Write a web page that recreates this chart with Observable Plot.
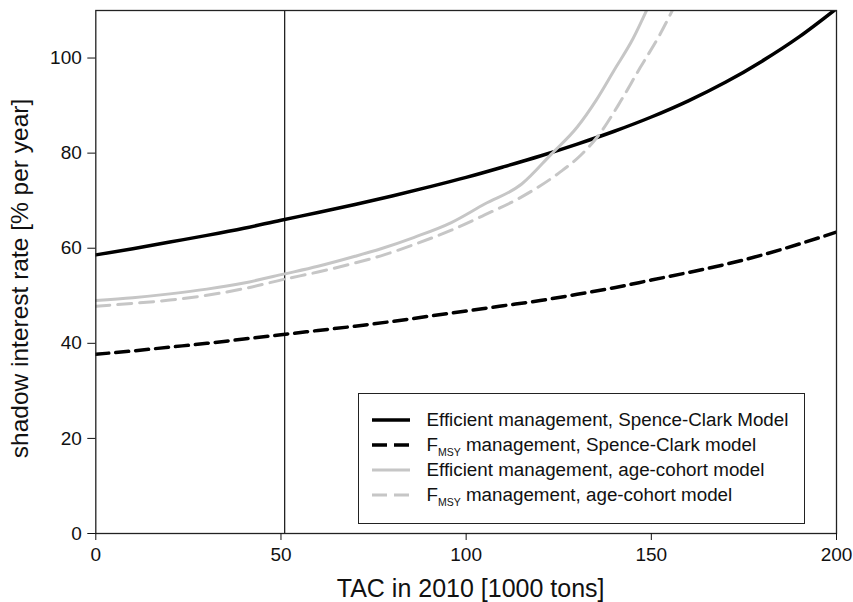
<!DOCTYPE html>
<html><head><meta charset="utf-8">
<script src="https://cdn.jsdelivr.net/npm/d3@7"></script>
<script src="https://cdn.jsdelivr.net/npm/@observablehq/plot@0.6"></script>
<style>
body{margin:0;background:#fff;font-family:"Liberation Sans",Arial,sans-serif;}
#wrap{position:relative;width:853px;height:602px;}
#legend{position:absolute;left:358px;top:393px;width:447px;height:131px;box-sizing:border-box;border:1.3px solid #222;background:#fff;padding:13.5px 0 0 13px;color:#111;font-size:18.8px;}
.row{display:flex;align-items:center;height:25.1px;white-space:nowrap;}
.row svg{margin-right:16.5px;flex:none;}
.row sub{font-size:10.5px;vertical-align:baseline;position:relative;top:5px;}
</style></head>
<body><div id="wrap"><div id="chart"></div><div id="legend"></div></div>
<script>
// x values (TAC in 2010, 1000 tons) and series values (shadow interest rate, % per year)
const tacSC = [0,10,20,30,40,50,60,70,80,90,100,110,120,130,140,150,160,170,180,190,200];
const effSpenceClark = [58.6,59.9,61.3,62.7,64.2,65.9,67.5,69.2,71.0,72.9,74.9,77.1,79.4,81.9,84.6,87.6,91.0,94.9,99.4,104.5,110.4];
const fmsySpenceClark = [37.7,38.4,39.2,40.0,40.9,41.8,42.7,43.6,44.6,45.7,46.8,47.9,49.0,50.3,51.7,53.3,54.9,56.6,58.6,60.9,63.4];
const tacEffAC = [0,10,20,30,40,51,60,70,77,86,96,105,115,123,130,135,140,145,149];
const effAgeCohort = [49.0,49.6,50.4,51.4,52.7,54.6,56.2,58.3,59.9,62.3,65.4,69.3,73.5,79.8,85.5,91.0,97.5,104.0,110.5];
const tacFmsyAC = [0,10,20,30,40,51,60,70,77,86,96,105,115,125,131,136,141,147,152,156];
const fmsyAgeCohort = [47.8,48.4,49.1,50.1,51.5,53.5,55.0,56.9,58.4,60.8,63.8,67.0,70.8,75.8,79.6,84.0,90.0,98.0,104.5,110.5];
const tac2010 = 51;
const xTicks = [0,50,100,150,200];
const yTicks = [0,20,40,60,80,100];
const xLabel = "TAC in 2010 [1000 tons]";
const yLabel = "shadow interest rate [% per year]";
const seriesNames = ["Efficient management, Spence-Clark Model","F<sub>MSY</sub> management, Spence-Clark model","Efficient management, age-cohort model","F<sub>MSY</sub> management, age-cohort model"];
const seriesColors = ["#000000","#000000","#c6c6c6","#c6c6c6"];
const seriesWidths = [3.5,3.5,3,3];
const seriesDashes = [null,"13,7",null,"14,8"];

const mk = (xs, ys) => xs.map((x, i) => ({x, y: ys[i]}));
const series = [mk(tacSC, effSpenceClark), mk(tacSC, fmsySpenceClark), mk(tacEffAC, effAgeCohort), mk(tacFmsyAC, fmsyAgeCohort)];

const chart = Plot.plot({
  width: 853, height: 602,
  marginLeft: 95.3, marginRight: 17, marginTop: 10, marginBottom: 69,
  style: {fontFamily: "Liberation Sans, Arial, sans-serif", fontSize: "19px", background: "white", color: "#111"},
  x: {domain: [0, 200]},
  y: {domain: [0, 110]},
  marks: [
    Plot.ruleX([tac2010], {stroke: "#111", strokeWidth: 1.2}),
    ...series.map((d, i) => Plot.line(d, {x: "x", y: "y", curve: "monotone-x", stroke: seriesColors[i], strokeWidth: seriesWidths[i], strokeDasharray: seriesDashes[i], clip: true})),
    Plot.frame({stroke: "#222", strokeWidth: 1.3}),
    Plot.axisX({ticks: xTicks, tickSize: 7, tickPadding: 7, label: null, fontSize: 19}),
    Plot.axisY({ticks: yTicks, tickSize: 8, tickPadding: 6, label: null, fontSize: 19}),
    Plot.text([xLabel], {text: d => d, frameAnchor: "bottom", textAnchor: "middle", dy: 55.5, dx: 4.5, fontSize: 25, lineAnchor: "middle", fill: "#111"}),
    Plot.text([yLabel], {text: d => d, frameAnchor: "left", textAnchor: "middle", rotate: -90, dx: -76, dy: 6.5, fontSize: 24.5, lineAnchor: "middle", fill: "#111"})
  ]
});
document.getElementById("chart").appendChild(chart);

const legend = document.getElementById("legend");
seriesNames.forEach((name, i) => {
  const row = document.createElement("div");
  row.className = "row";
  const dash = seriesDashes[i] ? ` stroke-dasharray="15,7"` : "";
  row.innerHTML = `<svg width="38" height="6"><line x1="0" y1="3" x2="38" y2="3" stroke="${seriesColors[i]}" stroke-width="${seriesWidths[i]}"${dash}/></svg><span>${name}</span>`;
  legend.appendChild(row);
});
</script>
</body></html>
